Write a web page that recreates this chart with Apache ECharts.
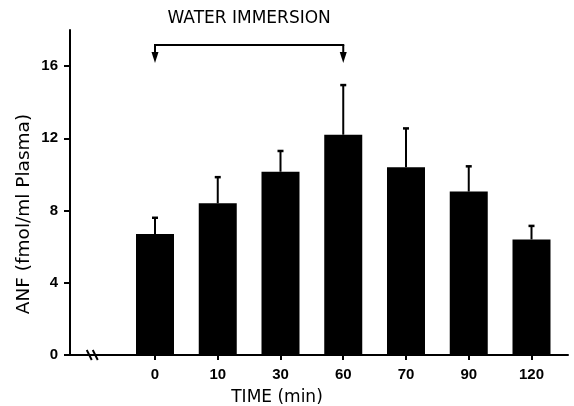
<!DOCTYPE html>
<html><head><meta charset="utf-8">
<script src="https://cdn.jsdelivr.net/npm/echarts@6/dist/echarts.min.js"></script>
<style>html,body{margin:0;padding:0;background:#fff}#c{width:574px;height:406px}</style>
</head><body><div id="c"></div>
<script>
// ---- data ----
var categories = ['0', '10', '30', '60', '70', '90', '120'];
var anfMean = [6.7, 8.4, 10.15, 12.2, 10.4, 9.05, 6.4];
var anfSem = [0.9, 1.45, 1.15, 2.75, 2.15, 1.4, 0.75];
var yTicks = [0, 4, 8, 12, 16];
var immersion = ['0', '60'];
var annotationText = 'WATER IMMERSION';
var xTitle = 'TIME (min)';
var yTitle = 'ANF (fmol/ml Plasma)';

var idx = categories.map(function (c, i) { return i; });
var barData = idx.map(function (i) { return [i, anfMean[i]]; });
var errData = idx.map(function (i) { return [i, anfMean[i], anfSem[i]]; });
var tickFont = '"Liberation Sans Narrow", "Liberation Sans", Arial, sans-serif';
var textFont = '"DejaVu Sans", "Liberation Sans", sans-serif';

var chart = echarts.init(document.getElementById('c'));
chart.setOption({
  animation: false,
  backgroundColor: '#fff',
  grid: { left: 70, right: 6, top: 30, bottom: 51, containLabel: false },
  xAxis: {
    type: 'value', min: -1.3546, max: 6.5817,
    splitLine: { show: false },
    axisLine: { show: true, onZero: false, lineStyle: { color: '#000', width: 2 } },
    axisTick: { show: true, customValues: idx, length: 5, lineStyle: { color: '#000', width: 2 } },
    axisLabel: {
      customValues: idx, margin: 12, color: '#000', fontFamily: tickFont, fontWeight: 'bold', fontSize: 15,
      formatter: function (v) { return categories[Math.round(v)]; }
    }
  },
  yAxis: {
    type: 'value', min: 0, max: 18,
    splitLine: { show: false },
    axisLine: { show: true, onZero: false, lineStyle: { color: '#000', width: 2 } },
    axisTick: { show: true, customValues: yTicks, length: 6, lineStyle: { color: '#000', width: 2 } },
    axisLabel: { customValues: yTicks, margin: 12, color: '#000', fontFamily: tickFont, fontWeight: 'bold', fontSize: 15 }
  },
  graphic: [
    { type: 'text', x: 24, y: 214, rotation: Math.PI / 2,
      style: { text: yTitle, fill: '#000', font: '18.5px ' + textFont, align: 'center', verticalAlign: 'middle' } },
    { type: 'text', x: 277, y: 398,
      style: { text: xTitle, fill: '#000', font: '17px ' + textFont, align: 'center', verticalAlign: 'middle' } }
  ],
  series: [
    {
      type: 'bar', data: barData, barWidth: 38,
      itemStyle: { color: '#000' }
    },
    {
      type: 'custom', data: errData, z: 3,
      renderItem: function (params, api) {
        var i = api.value(0), m = api.value(1), s = api.value(2);
        var base = api.coord([i, m]);
        var top = api.coord([i, m + s]);
        var st = { stroke: '#000', lineWidth: 2 };
        return { type: 'group', children: [
          { type: 'line', shape: { x1: base[0], y1: base[1], x2: top[0], y2: top[1] }, style: st },
          { type: 'line', shape: { x1: top[0] - 3, y1: top[1], x2: top[0] + 3, y2: top[1] }, style: { stroke: '#000', lineWidth: 2.5 } }
        ] };
      }
    },
    {
      type: 'custom', clip: false, z: 4,
      data: [[categories.indexOf(immersion[0]), categories.indexOf(immersion[1])]],
      renderItem: function (params, api) {
        var x1 = api.coord([api.value(0), 0])[0];
        var x2 = api.coord([api.value(1), 0])[0];
        var gy = params.coordSys.y;
        var yl = gy + 15, tip = gy + 33;
        var st = { stroke: '#000', lineWidth: 2 };
        function arrow(x) {
          return [
            { type: 'line', shape: { x1: x, y1: yl, x2: x, y2: tip - 8 }, style: st },
            { type: 'polygon', shape: { points: [[x - 3.5, tip - 11], [x + 3.5, tip - 11], [x, tip]] }, style: { fill: '#000' } }
          ];
        }
        var ch = [{ type: 'line', shape: { x1: x1 - 1, y1: yl, x2: x2 + 1, y2: yl }, style: st }]
          .concat(arrow(x1)).concat(arrow(x2));
        ch.push({ type: 'text', x: (x1 + x2) / 2, y: gy - 11,
          style: { text: annotationText, fill: '#000', font: '17px ' + textFont, align: 'center', verticalAlign: 'middle' } });
        return { type: 'group', children: ch };
      }
    },
    {
      type: 'custom', clip: false, z: 4,
      data: [[-1]],
      renderItem: function (params, api) {
        var p = api.coord([api.value(0), 0]);
        var st = { stroke: '#000', lineWidth: 2 };
        return { type: 'group', children: [
          { type: 'line', shape: { x1: p[0] - 5.5, y1: p[1] - 5, x2: p[0] - 0.5, y2: p[1] + 5 }, style: st },
          { type: 'line', shape: { x1: p[0] + 0.5, y1: p[1] - 5, x2: p[0] + 5.5, y2: p[1] + 5 }, style: st }
        ] };
      }
    }
  ]
});
</script>
</body></html>
